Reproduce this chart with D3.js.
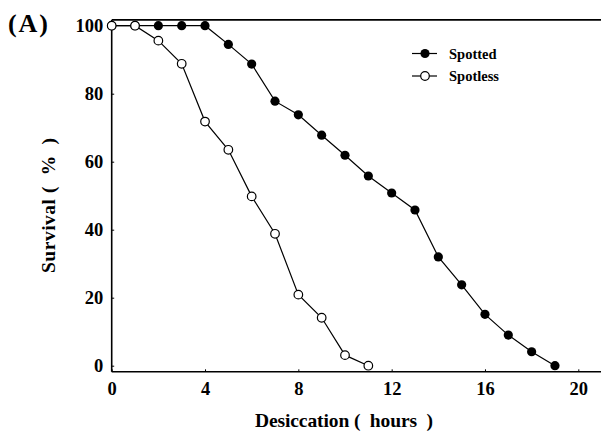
<!DOCTYPE html>
<html><head><meta charset="utf-8">
<script src="https://cdn.jsdelivr.net/npm/d3@7"></script>
<style>body{margin:0;background:#fff}svg{display:block}</style>
</head><body>
<svg id="c" width="601" height="432"></svg>
<script>
const hours = [0,1,2,3,4,5,6,7,8,9,10,11,12,13,14,15,16,17,18,19];
const spotted = [100,100,100,100,100,94.5,88.7,77.8,73.8,67.8,61.9,55.8,50.8,45.8,32,23.8,15.1,9,4.1,0];
const spotlessHours = [0,1,2,3,4,5,6,7,8,9,10,11];
const spotless = [100,100,95.6,88.8,71.8,63.5,49.8,38.8,20.9,14.1,3.1,0];
const xTicks = [0,4,8,12,16,20];
const yTicks = [0,20,40,60,80,100];
const legendLabels = ["Spotted","Spotless"];

const FONT = "'Liberation Serif','Times New Roman','DejaVu Serif',serif";
const svg = d3.select("#c");
const x = d3.scaleLinear().domain([0,20]).range([111.7,578.3]);
const y = d3.scaleLinear().domain([0,100]).range([365.7,25.7]);
const yBot = y(-1.8), yTop = y(101.7);

svg.append("line").attr("x1",x(0)).attr("x2",601).attr("y1",yBot).attr("y2",yBot).attr("stroke","#000").attr("stroke-width",1.6);
svg.append("line").attr("x1",x(0)).attr("x2",601).attr("y1",yTop).attr("y2",yTop).attr("stroke","#000").attr("stroke-width",1.6);
svg.append("line").attr("x1",x(0)).attr("x2",x(0)).attr("y1",yTop).attr("y2",yBot).attr("stroke","#000").attr("stroke-width",1.6);

const xa = svg.append("g").attr("transform",`translate(0,${yBot})`)
  .call(d3.axisBottom(x).tickValues(xTicks).tickSize(-2.5).tickPadding(12).tickFormat(d3.format("d")));
xa.select(".domain").remove();
xa.attr("font-family",FONT).attr("font-weight","bold");
xa.selectAll("text").attr("font-size",18.5).attr("dy","0.71em").attr("y",10).attr("fill","#000");
const ya = svg.append("g").attr("transform",`translate(${x(0)},0)`)
  .call(d3.axisLeft(y).tickValues(yTicks).tickSize(-2.5).tickPadding(8).tickFormat(d3.format("d")));
ya.select(".domain").remove();
ya.attr("font-family",FONT).attr("font-weight","bold");
ya.selectAll("text").attr("font-size",18.5).attr("x",-8.5).attr("fill","#000");

const line = d3.line();
const sp = hours.map((h,i)=>[x(h),y(spotted[i])]);
const sl = spotlessHours.map((h,i)=>[x(h),y(spotless[i])]);
svg.append("path").attr("d",line(sp)).attr("fill","none").attr("stroke","#000").attr("stroke-width",1.2);
svg.append("path").attr("d",line(sl)).attr("fill","none").attr("stroke","#000").attr("stroke-width",1.2);
svg.selectAll(".f").data(sp).enter().append("circle").attr("cx",d=>d[0]).attr("cy",d=>d[1]).attr("r",4.6).attr("fill","#000");
svg.selectAll(".o").data(sl).enter().append("circle").attr("cx",d=>d[0]).attr("cy",d=>d[1]).attr("r",4.3).attr("fill","#fff").attr("stroke","#000").attr("stroke-width",1.2);

const T = svg.append("g").attr("font-family",FONT).attr("font-weight","bold").attr("fill","#000");
legendLabels.forEach((lab,i)=>{
  const cy = 53.5 + i*22.5;
  svg.append("line").attr("x1",412).attr("x2",437).attr("y1",cy).attr("y2",cy).attr("stroke","#000").attr("stroke-width",1.2);
  svg.append("circle").attr("cx",425).attr("cy",cy).attr("r",i===0?4.6:4.3).attr("fill",i===0?"#000":"#fff").attr("stroke","#000").attr("stroke-width",i===0?0:1.2);
  T.append("text").attr("x",449).attr("y",cy).attr("dy","0.35em").attr("font-size",14.5).text(lab);
});

T.append("text").attr("x",8).attr("y",32).attr("font-size",26).attr("textLength",40).text("(A)");
T.append("text").attr("x",344).attr("y",427).attr("text-anchor","middle").attr("font-size",19.5).style("white-space","pre").attr("textLength",178).text("Desiccation (  hours  )");
T.append("text").attr("transform","translate(55,205.5) rotate(-90)").attr("text-anchor","middle").attr("font-size",19.5).style("white-space","pre").attr("textLength",135).text("Survival (  %  )");
</script>
</body></html>
